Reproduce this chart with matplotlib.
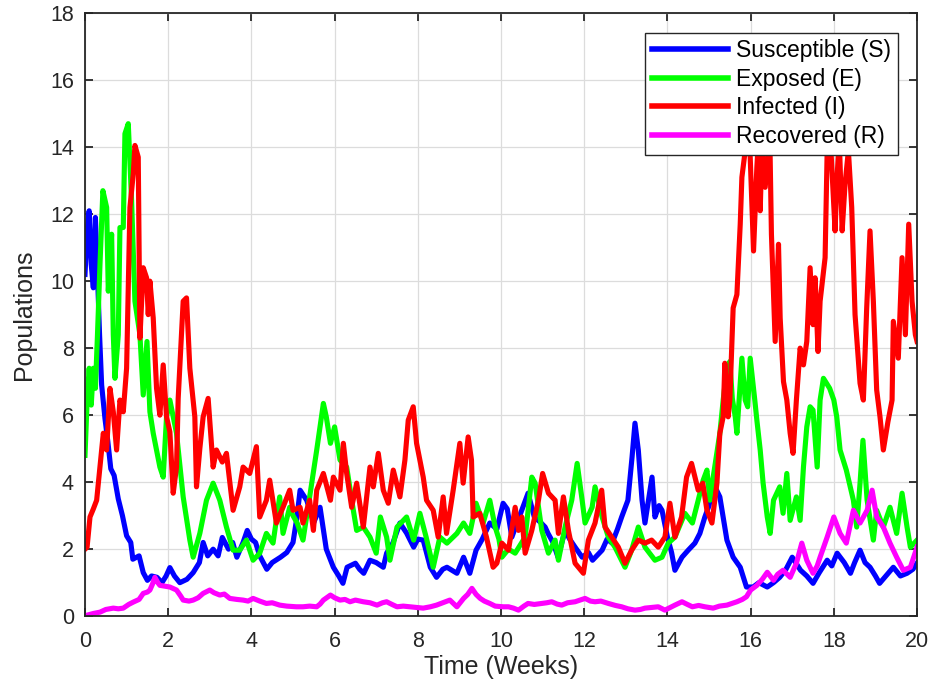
import matplotlib
matplotlib.use("Agg")
import matplotlib.pyplot as plt

# ---- data ----
S_t = [0, 0.05, 0.1, 0.15, 0.2, 0.25, 0.3, 0.35, 0.4, 0.48, 0.55, 0.62, 0.7, 0.8, 0.9, 1.0, 1.1, 1.15, 1.3, 1.4, 1.5, 1.6, 1.73, 1.85, 1.95, 2.04, 2.15, 2.28, 2.45, 2.6, 2.75, 2.84, 2.95, 3.08, 3.2, 3.3, 3.45, 3.55, 3.65, 3.8, 3.9, 4.0, 4.1, 4.2, 4.37, 4.5, 4.7, 4.85, 5.0, 5.1, 5.17, 5.33, 5.5, 5.65, 5.8, 5.97, 6.1, 6.2, 6.3, 6.5, 6.6, 6.7, 6.85, 7.0, 7.17, 7.25, 7.4, 7.57, 7.73, 7.9, 8.0, 8.13, 8.3, 8.45, 8.6, 8.7, 8.94, 9.1, 9.25, 9.4, 9.55, 9.73, 9.9, 10.05, 10.15, 10.26, 10.45, 10.65, 10.8, 10.95, 11.06, 11.13, 11.25, 11.37, 11.54, 11.65, 11.78, 11.95, 12.1, 12.2, 12.3, 12.43, 12.55, 12.67, 12.8, 12.9, 13.05, 13.15, 13.22, 13.3, 13.39, 13.46, 13.55, 13.63, 13.7, 13.8, 13.87, 14.0, 14.1, 14.18, 14.35, 14.5, 14.66, 14.78, 14.9, 15.0, 15.1, 15.26, 15.43, 15.58, 15.75, 15.9, 16.06, 16.2, 16.4, 16.55, 16.7, 16.85, 17.0, 17.2, 17.35, 17.5, 17.65, 17.84, 17.95, 18.08, 18.25, 18.4, 18.5, 18.63, 18.75, 18.87, 19.0, 19.1, 19.25, 19.43, 19.6, 19.76, 19.9, 20.0]
S_v = [10.2, 11.5, 12.1, 10.5, 9.8, 11.9, 10.2, 8.4, 6.9, 5.9, 5.2, 4.4, 4.2, 3.5, 3.0, 2.4, 2.2, 1.7, 1.8, 1.3, 1.07, 1.2, 1.16, 1.0, 1.2, 1.45, 1.2, 1.0, 1.1, 1.3, 1.6, 2.2, 1.8, 2.0, 1.8, 2.35, 2.0, 2.2, 1.76, 2.2, 2.56, 2.3, 2.2, 1.8, 1.4, 1.6, 1.76, 1.9, 2.2, 3.0, 3.76, 3.46, 2.8, 3.25, 2.0, 1.46, 1.2, 0.98, 1.46, 1.58, 1.4, 1.28, 1.67, 1.6, 1.46, 1.88, 2.18, 2.78, 2.48, 2.06, 2.3, 2.27, 1.46, 1.16, 1.4, 1.46, 1.28, 1.76, 1.28, 1.97, 2.3, 2.78, 2.6, 3.37, 3.2, 2.36, 3.0, 3.67, 2.96, 2.8, 2.66, 2.47, 2.2, 1.76, 2.56, 2.3, 2.06, 1.76, 1.9, 1.67, 1.8, 1.97, 2.3, 2.18, 2.6, 2.96, 3.46, 4.75, 5.76, 4.96, 3.46, 2.78, 3.5, 4.15, 2.96, 3.3, 3.16, 2.36, 1.9, 1.37, 1.76, 1.97, 2.18, 2.47, 2.96, 3.3, 3.97, 3.56, 2.27, 1.76, 1.46, 0.87, 0.87, 1.0, 0.87, 1.0, 1.16, 1.4, 1.76, 1.37, 1.2, 0.98, 1.3, 1.67, 1.5, 1.88, 1.6, 1.28, 1.6, 1.97, 1.6, 1.46, 1.2, 0.98, 1.2, 1.46, 1.2, 1.28, 1.4, 1.58]

E_t = [0, 0.05, 0.1, 0.15, 0.2, 0.25, 0.3, 0.36, 0.43, 0.52, 0.56, 0.64, 0.68, 0.72, 0.8, 0.84, 0.92, 0.96, 1.04, 1.12, 1.2, 1.32, 1.4, 1.49, 1.56, 1.64, 1.8, 1.88, 1.96, 2.04, 2.2, 2.36, 2.52, 2.6, 2.76, 2.92, 3.08, 3.24, 3.4, 3.56, 3.72, 3.88, 4.04, 4.2, 4.36, 4.52, 4.68, 4.76, 4.92, 5.0, 5.1, 5.24, 5.4, 5.57, 5.73, 5.8, 5.9, 6.0, 6.13, 6.29, 6.45, 6.53, 6.69, 6.85, 7.0, 7.1, 7.25, 7.33, 7.5, 7.73, 7.9, 8.05, 8.2, 8.37, 8.53, 8.7, 8.94, 9.1, 9.25, 9.4, 9.57, 9.73, 9.86, 9.95, 10.02, 10.18, 10.34, 10.58, 10.74, 10.82, 10.98, 11.14, 11.3, 11.38, 11.54, 11.7, 11.83, 11.95, 12.02, 12.19, 12.26, 12.43, 12.58, 12.74, 12.98, 13.14, 13.3, 13.46, 13.7, 13.87, 14.02, 14.18, 14.42, 14.6, 14.74, 14.86, 14.95, 15.02, 15.1, 15.26, 15.34, 15.42, 15.5, 15.56, 15.63, 15.67, 15.79, 15.87, 15.93, 15.99, 16.1, 16.15, 16.23, 16.3, 16.4, 16.47, 16.55, 16.7, 16.78, 16.87, 16.95, 17.1, 17.19, 17.27, 17.35, 17.43, 17.5, 17.6, 17.67, 17.75, 17.9, 18.0, 18.07, 18.15, 18.3, 18.47, 18.55, 18.63, 18.7, 18.8, 18.95, 19.03, 19.19, 19.35, 19.51, 19.64, 19.76, 19.84, 20.0]
E_v = [4.8, 6.4, 7.4, 6.3, 7.4, 6.8, 8.4, 10.5, 12.7, 12.2, 9.7, 11.4, 8.4, 7.1, 8.4, 11.6, 11.6, 14.4, 14.7, 12.4, 9.4, 8.4, 6.6, 8.2, 6.1, 5.46, 4.45, 4.15, 5.95, 6.45, 5.46, 3.56, 2.27, 1.76, 2.47, 3.46, 3.97, 3.46, 2.66, 1.97, 1.97, 2.27, 1.67, 1.88, 2.47, 2.18, 3.56, 2.47, 3.25, 3.0, 2.78, 2.27, 3.56, 4.96, 6.35, 5.95, 5.16, 5.65, 4.66, 4.45, 3.16, 2.56, 2.66, 2.36, 1.88, 2.96, 2.36, 1.67, 2.66, 2.96, 2.27, 3.07, 2.36, 1.46, 2.36, 2.18, 2.47, 2.78, 2.47, 3.37, 2.78, 3.46, 2.66, 2.3, 1.76, 2.0, 1.88, 2.36, 4.15, 3.97, 2.56, 1.88, 2.27, 1.67, 2.66, 3.46, 4.56, 3.46, 2.78, 3.25, 3.86, 2.96, 2.36, 2.06, 1.46, 1.97, 2.66, 2.06, 1.67, 1.76, 2.18, 2.36, 3.07, 2.78, 3.46, 4.06, 4.36, 3.46, 4.15, 5.46, 6.45, 7.3, 7.6, 6.5, 5.95, 5.46, 7.7, 6.45, 6.25, 7.7, 6.45, 5.85, 4.96, 3.97, 2.96, 2.47, 3.46, 3.86, 3.07, 4.26, 2.86, 3.56, 2.86, 4.45, 5.65, 6.25, 6.15, 4.45, 6.45, 7.1, 6.8, 6.45, 5.95, 4.96, 4.36, 3.46, 2.66, 3.97, 5.25, 3.46, 2.27, 3.16, 2.66, 3.25, 2.47, 3.67, 2.66, 2.06, 2.27]

I_t = [0, 0.05, 0.12, 0.2, 0.28, 0.36, 0.44, 0.52, 0.6, 0.68, 0.76, 0.84, 0.92, 1.0, 1.08, 1.16, 1.2, 1.28, 1.32, 1.4, 1.48, 1.52, 1.56, 1.64, 1.72, 1.8, 1.88, 1.96, 2.04, 2.12, 2.2, 2.24, 2.36, 2.44, 2.52, 2.64, 2.68, 2.76, 2.84, 2.96, 3.08, 3.16, 3.3, 3.4, 3.56, 3.72, 3.8, 3.96, 4.12, 4.2, 4.36, 4.44, 4.6, 4.76, 4.92, 5.0, 5.17, 5.24, 5.4, 5.49, 5.57, 5.73, 5.9, 5.97, 6.13, 6.21, 6.29, 6.41, 6.53, 6.69, 6.85, 6.93, 7.05, 7.17, 7.29, 7.41, 7.57, 7.69, 7.77, 7.89, 7.97, 8.13, 8.21, 8.37, 8.49, 8.61, 8.69, 8.85, 9.01, 9.09, 9.21, 9.29, 9.33, 9.49, 9.65, 9.81, 9.9, 10.02, 10.18, 10.34, 10.42, 10.5, 10.58, 10.74, 10.9, 11.0, 11.14, 11.3, 11.38, 11.5, 11.62, 11.78, 11.98, 12.1, 12.26, 12.42, 12.5, 12.66, 12.82, 12.98, 13.14, 13.3, 13.46, 13.62, 13.78, 13.94, 14.06, 14.18, 14.34, 14.46, 14.58, 14.74, 14.85, 14.95, 15.07, 15.19, 15.26, 15.34, 15.38, 15.46, 15.5, 15.58, 15.67, 15.75, 15.79, 15.87, 15.93, 15.99, 16.07, 16.15, 16.2, 16.23, 16.27, 16.35, 16.42, 16.46, 16.5, 16.59, 16.67, 16.71, 16.79, 16.87, 16.95, 17.02, 17.1, 17.19, 17.27, 17.35, 17.43, 17.5, 17.55, 17.62, 17.67, 17.79, 17.84, 17.9, 17.96, 18.03, 18.07, 18.13, 18.2, 18.27, 18.35, 18.43, 18.51, 18.63, 18.71, 18.79, 18.87, 18.95, 19.03, 19.11, 19.15, 19.19, 19.3, 19.4, 19.43, 19.55, 19.64, 19.72, 19.8, 19.88, 19.96, 20.0]
I_v = [2.0, 2.06, 2.96, 3.2, 3.46, 4.45, 5.46, 4.96, 6.8, 6.1, 4.96, 6.45, 6.1, 7.4, 12.2, 13.2, 14.05, 13.7, 8.3, 10.4, 10.1, 9.0, 10.0, 8.9, 6.8, 6.0, 7.5, 5.95, 5.5, 3.67, 4.45, 6.5, 9.4, 9.5, 7.4, 5.95, 3.86, 5.0, 5.95, 6.5, 4.45, 4.96, 4.6, 4.86, 3.16, 3.86, 4.45, 4.26, 5.06, 2.96, 3.46, 4.06, 2.78, 3.25, 3.76, 3.16, 3.25, 2.78, 3.46, 2.56, 3.76, 4.26, 3.46, 4.15, 3.76, 5.16, 4.26, 3.25, 3.97, 2.66, 4.45, 3.86, 4.86, 3.76, 3.37, 4.36, 3.56, 4.66, 5.85, 6.25, 5.16, 4.15, 3.46, 3.16, 2.36, 3.56, 2.47, 3.76, 5.16, 3.97, 5.35, 4.66, 2.96, 3.07, 2.36, 1.46, 1.58, 2.18, 1.97, 3.25, 2.56, 2.96, 1.88, 2.56, 3.46, 4.26, 3.67, 3.46, 2.47, 3.56, 2.56, 1.58, 1.28, 2.27, 2.78, 3.76, 2.66, 2.36, 2.06, 1.58, 1.97, 2.27, 2.18, 2.27, 2.06, 2.36, 3.37, 2.36, 2.96, 4.15, 4.56, 3.76, 3.97, 3.16, 2.78, 3.97, 5.46, 5.95, 7.55, 5.95, 6.45, 9.2, 9.6, 11.7, 13.1, 13.9, 14.6, 13.7, 10.9, 13.4, 14.5, 12.1, 13.9, 12.8, 13.9, 14.4, 11.4, 8.2, 11.1, 8.9, 7.0, 6.45, 5.46, 4.86, 6.45, 8.0, 7.5, 8.2, 10.4, 8.7, 10.1, 7.9, 9.4, 10.7, 13.9, 14.6, 13.2, 11.5, 12.9, 14.3, 11.5, 12.9, 13.9, 12.2, 9.0, 6.95, 6.45, 9.2, 11.5, 9.4, 6.75, 5.95, 5.46, 4.96, 5.8, 6.45, 8.8, 7.7, 10.7, 8.4, 11.7, 9.4, 8.4, 8.2]

R_t = [0, 0.05, 0.2, 0.36, 0.5, 0.68, 0.8, 0.92, 1.05, 1.16, 1.3, 1.4, 1.5, 1.56, 1.62, 1.68, 1.75, 1.8, 1.9, 2.04, 2.2, 2.3, 2.36, 2.5, 2.6, 2.72, 2.84, 3.0, 3.1, 3.24, 3.35, 3.48, 3.65, 3.8, 3.92, 4.04, 4.2, 4.36, 4.5, 4.68, 4.85, 5.08, 5.24, 5.4, 5.57, 5.65, 5.73, 5.9, 6.0, 6.13, 6.25, 6.37, 6.5, 6.69, 6.85, 7.02, 7.15, 7.25, 7.38, 7.5, 7.65, 7.81, 7.95, 8.13, 8.3, 8.45, 8.6, 8.77, 8.94, 9.1, 9.2, 9.3, 9.4, 9.5, 9.6, 9.73, 9.86, 10.05, 10.18, 10.3, 10.42, 10.55, 10.65, 10.8, 10.98, 11.1, 11.22, 11.35, 11.46, 11.6, 11.78, 11.9, 12.02, 12.15, 12.26, 12.4, 12.58, 12.75, 12.9, 13.05, 13.22, 13.35, 13.46, 13.62, 13.78, 13.94, 14.05, 14.18, 14.35, 14.48, 14.6, 14.75, 14.9, 15.1, 15.25, 15.43, 15.55, 15.67, 15.8, 15.9, 16.0, 16.15, 16.28, 16.4, 16.55, 16.65, 16.78, 16.95, 17.1, 17.23, 17.35, 17.5, 17.6, 17.67, 17.84, 18.0, 18.15, 18.3, 18.47, 18.63, 18.8, 18.92, 19.03, 19.19, 19.35, 19.51, 19.67, 19.84, 20.0]
R_v = [0.0, 0.03, 0.08, 0.12, 0.2, 0.24, 0.22, 0.24, 0.35, 0.42, 0.5, 0.68, 0.72, 0.78, 0.95, 1.16, 1.0, 0.92, 0.9, 0.87, 0.78, 0.6, 0.48, 0.45, 0.48, 0.55, 0.68, 0.78, 0.7, 0.63, 0.66, 0.53, 0.5, 0.48, 0.45, 0.53, 0.45, 0.38, 0.4, 0.33, 0.3, 0.28, 0.28, 0.3, 0.28, 0.36, 0.48, 0.63, 0.55, 0.48, 0.5, 0.43, 0.48, 0.43, 0.4, 0.33, 0.4, 0.43, 0.35, 0.28, 0.3, 0.28, 0.26, 0.24, 0.28, 0.33, 0.4, 0.48, 0.28, 0.53, 0.65, 0.83, 0.65, 0.53, 0.45, 0.38, 0.3, 0.28, 0.28, 0.24, 0.18, 0.3, 0.38, 0.35, 0.38, 0.4, 0.43, 0.36, 0.33, 0.4, 0.43, 0.48, 0.53, 0.45, 0.43, 0.45, 0.38, 0.32, 0.28, 0.22, 0.18, 0.2, 0.24, 0.26, 0.28, 0.18, 0.25, 0.33, 0.43, 0.35, 0.28, 0.32, 0.28, 0.24, 0.3, 0.33, 0.38, 0.43, 0.5, 0.58, 0.78, 0.92, 1.1, 1.31, 1.07, 1.25, 1.37, 1.16, 1.58, 2.18, 1.67, 1.28, 1.5, 1.76, 2.36, 2.96, 2.47, 2.18, 3.16, 2.78, 3.16, 3.76, 2.96, 2.66, 2.18, 1.76, 1.37, 1.46, 2.06]

labels = ["Susceptible (S)", "Exposed (E)", "Infected (I)", "Recovered (R)"]
colors = ["#0000ff", "#00ff00", "#ff0000", "#ff00ff"]
x_ticks = list(range(0, 21, 2))
y_ticks = list(range(0, 19, 2))

# ---- figure ----
plt.rcParams['font.family'] = ['Liberation Sans', 'DejaVu Sans']
fig = plt.figure(figsize=(9.31, 6.90), dpi=100)
ax = fig.add_axes([0.0913, 0.107, 0.8937, 0.874])

series = [(S_t, S_v), (E_t, E_v), (I_t, I_v), (R_t, R_v)]
for (t, v), lab, c in zip(series, labels, colors):
    ax.plot(t, v, color=c, lw=3.7, label=lab, solid_joinstyle='round')

ax.set_xlim(0, 20)
ax.set_ylim(0, 18)
ax.set_xticks(x_ticks)
ax.set_yticks(y_ticks)
ax.grid(True, color='#dcdcdc', lw=0.9)
ax.set_axisbelow(True)
ax.tick_params(axis='both', direction='in', length=6, width=1.3, top=True, right=True,
               labelsize=15.5, colors='#262626', labelcolor='#262626')
ax.tick_params(axis='x', pad=11)
ax.tick_params(axis='y', pad=8)
for sp in ax.spines.values():
    sp.set_color('#262626')
    sp.set_linewidth(1.3)

ax.set_xlabel("Time (Weeks)", fontsize=18, labelpad=2, color='#262626')
ax.set_ylabel("Populations", fontsize=18, labelpad=10, color='#262626')

leg = ax.legend(loc='upper right', fontsize=16.5, fancybox=False, framealpha=1,
                edgecolor='#262626', handlelength=3.3, labelspacing=0.24,
                borderaxespad=0.85, handletextpad=0.35, borderpad=0.3)
leg.get_frame().set_linewidth(1.0)
leg.set_zorder(10)
for lh in leg.get_lines():
    lh.set_linewidth(4)

fig.savefig("out.png", dpi=100)
